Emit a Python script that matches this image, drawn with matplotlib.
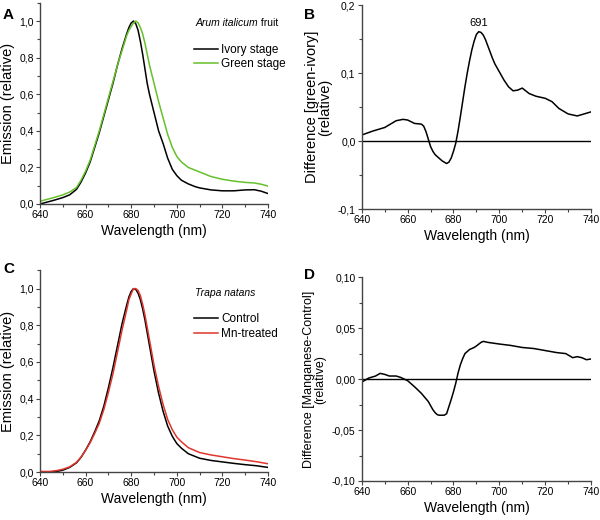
import matplotlib
matplotlib.use("Agg")
import matplotlib.pyplot as plt
from matplotlib.ticker import MultipleLocator, FuncFormatter

# ---------------- data ----------------
wl_a = [640, 643, 646, 650, 653, 656, 658, 660, 662, 664, 666, 668, 670, 672, 674, 676, 678,
        679, 680, 681, 682, 683, 684, 685, 686, 687, 688, 689, 690, 691, 692, 694, 696, 698,
        700, 702, 705, 708, 710, 715, 720, 725, 730, 734, 737, 740]
ivory = [0.0, 0.01, 0.02, 0.035, 0.05, 0.08, 0.12, 0.17, 0.23, 0.31, 0.39, 0.48, 0.57, 0.66,
         0.76, 0.85, 0.93, 0.965, 0.99, 1.0, 0.985, 0.95, 0.89, 0.82, 0.74, 0.66, 0.60, 0.55,
         0.50, 0.45, 0.40, 0.33, 0.25, 0.19, 0.155, 0.13, 0.11, 0.095, 0.088, 0.077, 0.072,
         0.072, 0.077, 0.078, 0.07, 0.057]
green = [0.015, 0.025, 0.035, 0.05, 0.065, 0.09, 0.13, 0.18, 0.24, 0.32, 0.40, 0.49, 0.58,
         0.67, 0.76, 0.84, 0.92, 0.95, 0.97, 0.99, 1.0, 0.99, 0.965, 0.93, 0.88, 0.82, 0.76,
         0.71, 0.66, 0.61, 0.56, 0.47, 0.38, 0.31, 0.26, 0.23, 0.20, 0.185, 0.175, 0.15,
         0.135, 0.125, 0.118, 0.115, 0.108, 0.098]

wl_b = [640, 645, 650, 655, 658, 660, 663, 666, 667, 668, 669, 670, 671, 672, 673, 675, 677,
        678, 679, 680, 681, 682, 683, 684, 685, 686, 687, 688, 689, 690, 691, 692, 693, 694,
        695, 696, 697, 698, 700, 702, 704, 706, 708, 710, 713, 716, 720, 723, 726, 730, 734,
        737, 740]
diff_b = [0.009, 0.015, 0.02, 0.03, 0.032, 0.031, 0.026, 0.025, 0.022, 0.014, 0.003, -0.008,
          -0.015, -0.02, -0.023, -0.029, -0.033, -0.031, -0.025, -0.015, -0.003, 0.015, 0.036,
          0.058, 0.08, 0.10, 0.118, 0.134, 0.147, 0.157, 0.161, 0.160, 0.156, 0.149, 0.14,
          0.131, 0.122, 0.114, 0.102, 0.09, 0.08, 0.074, 0.075, 0.078, 0.070, 0.066, 0.063,
          0.058, 0.048, 0.040, 0.037, 0.040, 0.043]

wl_c = [640, 644, 647, 650, 653, 656, 658, 660, 662, 664, 666, 668, 670, 672, 674, 676, 678,
        679, 680, 681, 682, 683, 684, 685, 686, 687, 688, 689, 690, 691, 692, 694, 696, 698,
        700, 702, 705, 710, 715, 720, 725, 730, 735, 740]
control = [0.0, 0.0, 0.002, 0.01, 0.025, 0.05, 0.08, 0.12, 0.165, 0.22, 0.28, 0.36, 0.46, 0.57,
           0.69, 0.81, 0.91, 0.955, 0.985, 1.0, 0.995, 0.975, 0.94, 0.89, 0.83, 0.76, 0.69,
           0.62, 0.55, 0.49, 0.43, 0.33, 0.25, 0.195, 0.155, 0.13, 0.10, 0.075, 0.063, 0.055,
           0.047, 0.040, 0.034, 0.025]
mn = [0.003, 0.003, 0.007, 0.015, 0.028, 0.053, 0.082, 0.118, 0.16, 0.211, 0.266, 0.341, 0.434,
      0.536, 0.655, 0.775, 0.883, 0.94, 0.972, 0.999, 1.0, 0.99, 0.962, 0.915, 0.858, 0.79,
      0.721, 0.652, 0.583, 0.524, 0.467, 0.367, 0.286, 0.231, 0.19, 0.165, 0.133, 0.106,
      0.093, 0.083, 0.073, 0.065, 0.056, 0.045]

wl_d = [640, 643, 646, 648, 650, 652, 655, 657, 660, 663, 666, 669, 670, 671, 672, 673, 674,
        676, 677, 678, 679, 680, 681, 682, 683, 684, 685, 687, 689, 690, 692, 693, 695, 700,
        705, 710, 715, 720, 725, 729, 732, 734, 736, 738, 740]
diff_d = [-0.003, 0.001, 0.003, 0.0056, 0.0046, 0.003, 0.003, 0.0016, -0.0016, -0.0075, -0.014,
          -0.022, -0.026, -0.030, -0.033, -0.035, -0.0355, -0.0354, -0.034, -0.027, -0.020,
          -0.0125, -0.004, 0.006, 0.014, 0.020, 0.025, 0.029, 0.031, 0.0325, 0.036, 0.037,
          0.036, 0.0344, 0.033, 0.031, 0.030, 0.028, 0.026, 0.025, 0.021, 0.022, 0.021, 0.019,
          0.0197]

# ---------------- style ----------------
plt.rcParams['font.family'] = ['Liberation Sans', 'DejaVu Sans']

fig = plt.figure(figsize=(6, 5.2), dpi=100)


def comma(fmt):
    return FuncFormatter(lambda v, p: (fmt % v).replace('.', ',').replace('\u2212', '-'))


def style(ax, ymaj, ymin, yfmt):
    for s in ['top', 'right']:
        ax.spines[s].set_visible(False)
    for s in ['left', 'bottom']:
        ax.spines[s].set_color('#444444')
        ax.spines[s].set_linewidth(1.0)
    ax.set_xlim(640, 740)
    ax.xaxis.set_major_locator(MultipleLocator(20))
    ax.xaxis.set_minor_locator(MultipleLocator(10))
    ax.yaxis.set_major_locator(MultipleLocator(ymaj))
    ax.yaxis.set_minor_locator(MultipleLocator(ymin))
    ax.yaxis.set_major_formatter(comma(yfmt))
    ax.tick_params(which='major', direction='out', length=3, width=0.8, color='#444444',
                   labelsize=7.5, pad=1.5)
    ax.tick_params(which='minor', direction='out', length=2, width=0.8, color='#444444')
    ax.set_xlabel('Wavelength (nm)', fontsize=10, labelpad=3)


# Panel A
axA = fig.add_axes([0.0667, 0.6077, 0.38, 0.387])
axA.plot(wl_a, ivory, color='black', lw=1.1, label='Ivory stage')
axA.plot(wl_a, green, color='#66c02a', lw=1.1, label='Green stage')
axA.set_ylim(0, 1.1)
style(axA, 0.2, 0.1, '%.1f')
axA.set_ylabel('Emission (relative)', fontsize=10.5, labelpad=3)
t1 = axA.text(0.68, 0.885, 'Arum italicum', style='italic', fontsize=7.5,
              transform=axA.transAxes, va='baseline')
axA.annotate(' fruit', xy=(1, 0), xycoords=t1, va='bottom', fontsize=7.5)
axA.legend(loc='upper left', bbox_to_anchor=(0.655, 0.82), frameon=False, fontsize=8.5,
           handlelength=2.0, handletextpad=0.3, labelspacing=0.2, borderaxespad=0)
fig.text(0.005, 0.985, 'A', fontsize=11, fontweight='bold', va='top')

# Panel B
axB = fig.add_axes([0.603, 0.598, 0.382, 0.392])
axB.plot(wl_b, diff_b, color='black', lw=1.1)
axB.axhline(0, color='black', lw=1.0)
axB.set_ylim(-0.1, 0.2)
style(axB, 0.1, 0.05, '%.1f')
axB.set_ylabel('Difference [green-ivory]\n(relative)', fontsize=10.5, labelpad=4,
               linespacing=0.95)
axB.text(691, 0.167, '691', ha='center', va='bottom', fontsize=8)
fig.text(0.507, 0.985, 'B', fontsize=11, fontweight='bold', va='top')

# Panel C
axC = fig.add_axes([0.0667, 0.0923, 0.38, 0.388])
axC.plot(wl_c, control, color='black', lw=1.1, label='Control')
axC.plot(wl_c, mn, color='#e0362c', lw=1.1, label='Mn-treated')
axC.set_ylim(0, 1.1)
style(axC, 0.2, 0.1, '%.1f')
axC.set_ylabel('Emission (relative)', fontsize=10.5, labelpad=3)
axC.text(0.68, 0.87, 'Trapa natans', style='italic', fontsize=7.5,
         transform=axC.transAxes, va='baseline')
axC.legend(loc='upper left', bbox_to_anchor=(0.655, 0.81), frameon=False, fontsize=8.5,
           handlelength=2.0, handletextpad=0.3, labelspacing=0.2, borderaxespad=0)
fig.text(0.005, 0.497, 'C', fontsize=11, fontweight='bold', va='top')

# Panel D
axD = fig.add_axes([0.603, 0.075, 0.382, 0.392])
axD.plot(wl_d, diff_d, color='black', lw=1.1)
axD.axhline(0, color='black', lw=1.0)
axD.set_ylim(-0.1, 0.1)
style(axD, 0.05, 0.025, '%.2f')
axD.set_ylabel('Difference [Manganese-Control]\n(relative)', fontsize=9, labelpad=4,
               linespacing=0.95)
fig.text(0.507, 0.485, 'D', fontsize=11, fontweight='bold', va='top')

fig.savefig('out.png', dpi=100)
